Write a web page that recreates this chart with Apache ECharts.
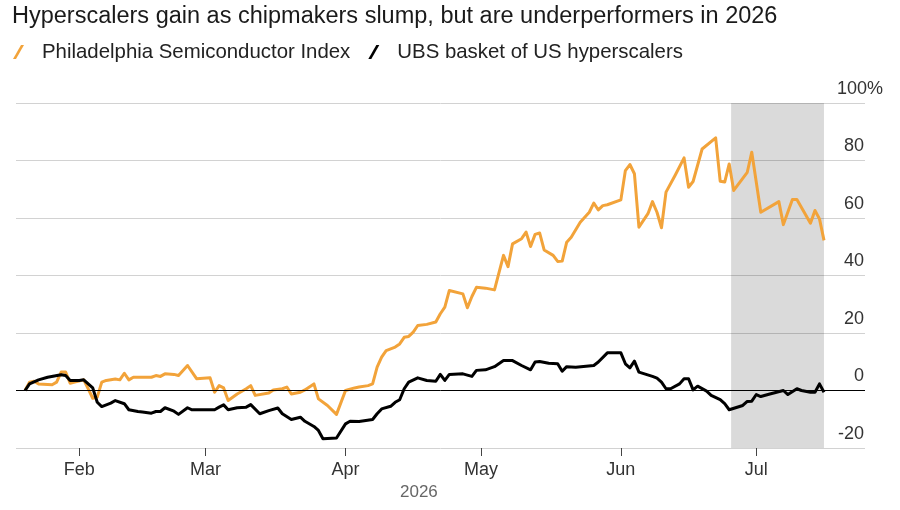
<!DOCTYPE html>
<html>
<head>
<meta charset="utf-8">
<script src="https://cdn.jsdelivr.net/npm/echarts@6/dist/echarts.min.js"></script>
<style>
html,body{margin:0;padding:0;background:#fff;}
#chart{width:900px;height:510px;}
</style>
</head>
<body>
<div id="chart"></div>
<script>
const YEAR = '2026';
const titleText = 'Hyperscalers gain as chipmakers slump, but are underperformers in 2026';
const seriesNames = ['Philadelphia Semiconductor Index', 'UBS basket of US hyperscalers'];
const monthLabels = ['Jan','Feb','Mar','Apr','May','Jun','Jul','Aug','Sep','Oct','Nov','Dec'];
const yTicks = [-20, 0, 20, 40, 60, 80, 100];

const semiDates = ['01-20','01-21','01-22','01-23','01-25','01-26','01-27','01-28','01-29','01-30','01-31',
  '02-02','02-03','02-04','02-05','02-06','02-07','02-09','02-10','02-11','02-12','02-13','02-17','02-18','02-19','02-20','02-22','02-23','02-25','02-27',
  '03-02','03-03','03-04','03-05','03-06','03-08','03-10','03-11','03-12','03-15','03-16','03-18','03-19','03-20','03-22','03-23','03-25','03-26','03-28','03-30',
  '04-01','04-03','04-04','04-06','04-07','04-08','04-09','04-10','04-12','04-13','04-14','04-15','04-16','04-17','04-19','04-21','04-22','04-23','04-24','04-27','04-28','04-29','04-30',
  '05-02','05-04','05-06','05-07','05-08','05-10','05-11','05-12','05-13','05-14','05-15','05-17','05-18','05-19','05-20','05-21','05-23','05-25','05-26','05-27','05-28','05-29',
  '06-01','06-02','06-03','06-04','06-05','06-07','06-08','06-09','06-10','06-11','06-13','06-15','06-16','06-17','06-19','06-22','06-23','06-24','06-25','06-26','06-29','06-30',
  '07-02','07-06','07-07','07-09','07-10','07-13','07-14','07-15','07-16'];
const semiValues = [0,2.9,3.2,2.3,2.1,2.0,2.9,6.4,6.4,2.5,2.9,
  3.7,0.6,-2.7,-2.3,2.9,3.5,4.0,3.7,6.0,3.7,4.6,4.6,5.2,4.9,5.8,5.6,5.2,8.7,4.1,
  4.4,-0.6,1.7,0.9,-3.5,-1.2,0.6,1.7,-1.7,-0.9,0.2,0.6,1.2,-1.2,-0.6,0.2,2.3,-2.9,-5.2,-8.3,
  0,0.9,1.2,1.7,2.3,8.1,11.6,13.9,15.1,16.2,18.5,18.8,20.3,22.6,23.0,23.8,26.7,29.0,34.8,33.6,28.8,32.7,35.9,
  35.6,35.0,47.0,43.1,51.0,52.8,55.1,50.1,54.3,54.8,48.9,47.0,44.9,45.0,51.6,53.3,58.5,62.0,65.2,62.8,64.3,64.6,
  66.3,76.5,78.6,75.4,56.8,61.5,65.7,62.0,56.6,69.0,74.8,80.9,70.7,72.7,84.0,87.9,72.8,72.5,78.8,69.6,75.9,82.9,
  62.0,65.7,57.7,66.4,66.4,58.2,62.6,59.7,52.2];

const ubsDates = ['01-20','01-21','01-23','01-25','01-28','01-29','01-30',
  '02-01','02-02','02-04','02-05','02-06','02-08','02-09','02-11','02-12','02-14','02-15','02-17','02-18','02-19','02-20','02-22','02-23','02-25','02-26','02-28',
  '03-03','03-04','03-05','03-06','03-08','03-10','03-11','03-13','03-15','03-17','03-18','03-20','03-22','03-23','03-25','03-26','03-27','03-30',
  '04-01','04-02','04-04','04-07','04-08','04-09','04-11','04-12','04-13','04-14','04-15','04-17','04-19','04-21','04-22','04-23','04-24','04-27','04-29','04-30',
  '05-02','05-04','05-06','05-08','05-10','05-12','05-13','05-14','05-16','05-18','05-19','05-20','05-22','05-26','05-27','05-29',
  '06-01','06-02','06-03','06-04','06-05','06-08','06-09','06-10','06-11','06-12','06-14','06-15','06-16','06-17','06-18','06-20','06-21','06-23','06-24','06-25','06-28','06-29','06-30',
  '07-01','07-02','07-04','07-07','07-08','07-10','07-11','07-13','07-14','07-15','07-16'];
const ubsValues = [0,2.3,3.7,4.6,5.5,5.2,3.5,
  3.5,3.7,0.9,-4.1,-5.6,-4.4,-3.5,-4.6,-6.7,-7.3,-7.5,-7.9,-7.3,-7.3,-6.0,-7.2,-8.3,-6.0,-6.7,-6.7,
  -6.7,-5.8,-5.0,-6.7,-6.0,-5.8,-4.9,-8.1,-7.0,-6.1,-8.1,-10.1,-9.3,-10.7,-12.5,-13.9,-16.8,-16.5,
  -11.6,-10.7,-10.8,-10.1,-8.1,-6.4,-5.5,-4.1,-3.2,0.6,2.9,4.4,3.5,3.2,5.6,3.5,5.6,5.8,4.9,7.0,
  7.2,8.3,10.4,10.4,8.7,7.2,9.9,10.1,9.5,9.3,6.7,8.3,8.1,8.7,9.9,13.1,
  13.1,9.3,7.9,10.2,6.4,4.9,4.3,2.9,0.6,0.6,2.3,4.1,4.1,0.2,1.5,-0.2,-1.7,-3.2,-4.6,-6.7,-5.2,-3.8,-3.7,
  -1.4,-2.1,-1.2,0,-1.4,0.6,0,-0.6,-0.6,2.3,-0.6];

const shadeRange = ['2026-06-25T10:00:00', '2026-07-16T00:00:00'];
const axisMin = '2026-01-18T00:00:00';
const axisMax = '2026-07-25T02:00:00';

function pairs(dates, values) {
  return dates.map((d, i) => [YEAR + '-' + d + 'T00:00:00', values[i]]);
}

const FONT = 'Liberation Sans, Arial, Helvetica, sans-serif';
const chart = echarts.init(document.getElementById('chart'));
const slash = 'path://M8,0 L11,0 L3,14 L0,14 Z';
const yMax = yTicks[yTicks.length - 1];

const yBase = {
  type: 'value', position: 'right',
  min: yTicks[0], max: yMax, interval: 20,
  axisLine: { show: false }, axisTick: { show: false }
};

chart.setOption({
  animation: false,
  backgroundColor: '#ffffff',
  textStyle: { fontFamily: FONT },
  title: {
    text: titleText,
    left: 12, top: 5, padding: 0,
    textStyle: { fontSize: 23.5, fontWeight: 'normal', color: '#1a1a1a', fontFamily: FONT }
  },
  legend: {
    left: 13, top: 42, padding: 0,
    itemWidth: 11, itemHeight: 14, itemGap: 18,
    icon: slash,
    textStyle: { fontSize: 20.4, color: '#222', fontFamily: FONT, padding: [0, 0, 0, 13] },
    data: seriesNames
  },
  grid: { left: 16, right: 35, top: 103, bottom: 62, containLabel: false },
  xAxis: {
    type: 'time',
    min: axisMin, max: axisMax,
    minInterval: 28 * 86400000,
    splitNumber: 6,
    axisLine: { show: false, onZero: false },
    axisTick: { show: true, length: 8, lineStyle: { color: '#444', width: 1 } },
    splitLine: { show: false },
    axisLabel: {
      margin: 13, fontSize: 18, color: '#333', fontFamily: FONT,
      showMinLabel: false, showMaxLabel: false,
      formatter: function (v) {
        const d = new Date(v);
        return d.getDate() === 1 ? monthLabels[d.getMonth()] : '';
      }
    }
  },
  yAxis: [
    Object.assign({}, yBase, {
      splitLine: { lineStyle: { color: '#d2d2d2', width: 1 } },
      axisLabel: {
        inside: true, margin: 1, fontSize: 18, color: '#333', fontFamily: FONT,
        verticalAlign: 'bottom', padding: [0, 0, 5, 0],
        formatter: function (v) { return v === yMax ? '' : String(v); }
      }
    }),
    Object.assign({}, yBase, {
      splitLine: { show: false },
      axisLabel: {
        inside: true, margin: -18, fontSize: 18, color: '#333', fontFamily: FONT,
        verticalAlign: 'bottom', padding: [0, 0, 5, 0],
        formatter: function (v) { return v === yMax ? v + '%' : ''; }
      }
    })
  ],
  graphic: [{
    type: 'text', left: 400, top: 484,
    style: { text: YEAR, fontSize: 17, fill: '#666', fontFamily: FONT, letterSpacing: 3.5 }
  }],
  series: [
    {
      name: seriesNames[0], type: 'line', showSymbol: false, symbol: 'none',
      color: '#f2a33a',
      lineStyle: { width: 3, color: '#f2a33a', join: 'round' },
      data: pairs(semiDates, semiValues),
      z: 3,
      markArea: {
        silent: true,
        itemStyle: { color: 'rgba(0,0,0,0.145)' },
        data: [[{ xAxis: shadeRange[0] }, { xAxis: shadeRange[1] }]]
      }
    },
    {
      name: seriesNames[1], type: 'line', showSymbol: false, symbol: 'none',
      color: '#000000',
      lineStyle: { width: 3, color: '#000000', join: 'round' },
      data: pairs(ubsDates, ubsValues),
      z: 4,
      markLine: {
        silent: true, symbol: 'none', label: { show: false },
        lineStyle: { color: '#000', width: 1, type: 'solid' },
        data: [{ yAxis: 0 }]
      }
    }
  ]
});
</script>
</body>
</html>
